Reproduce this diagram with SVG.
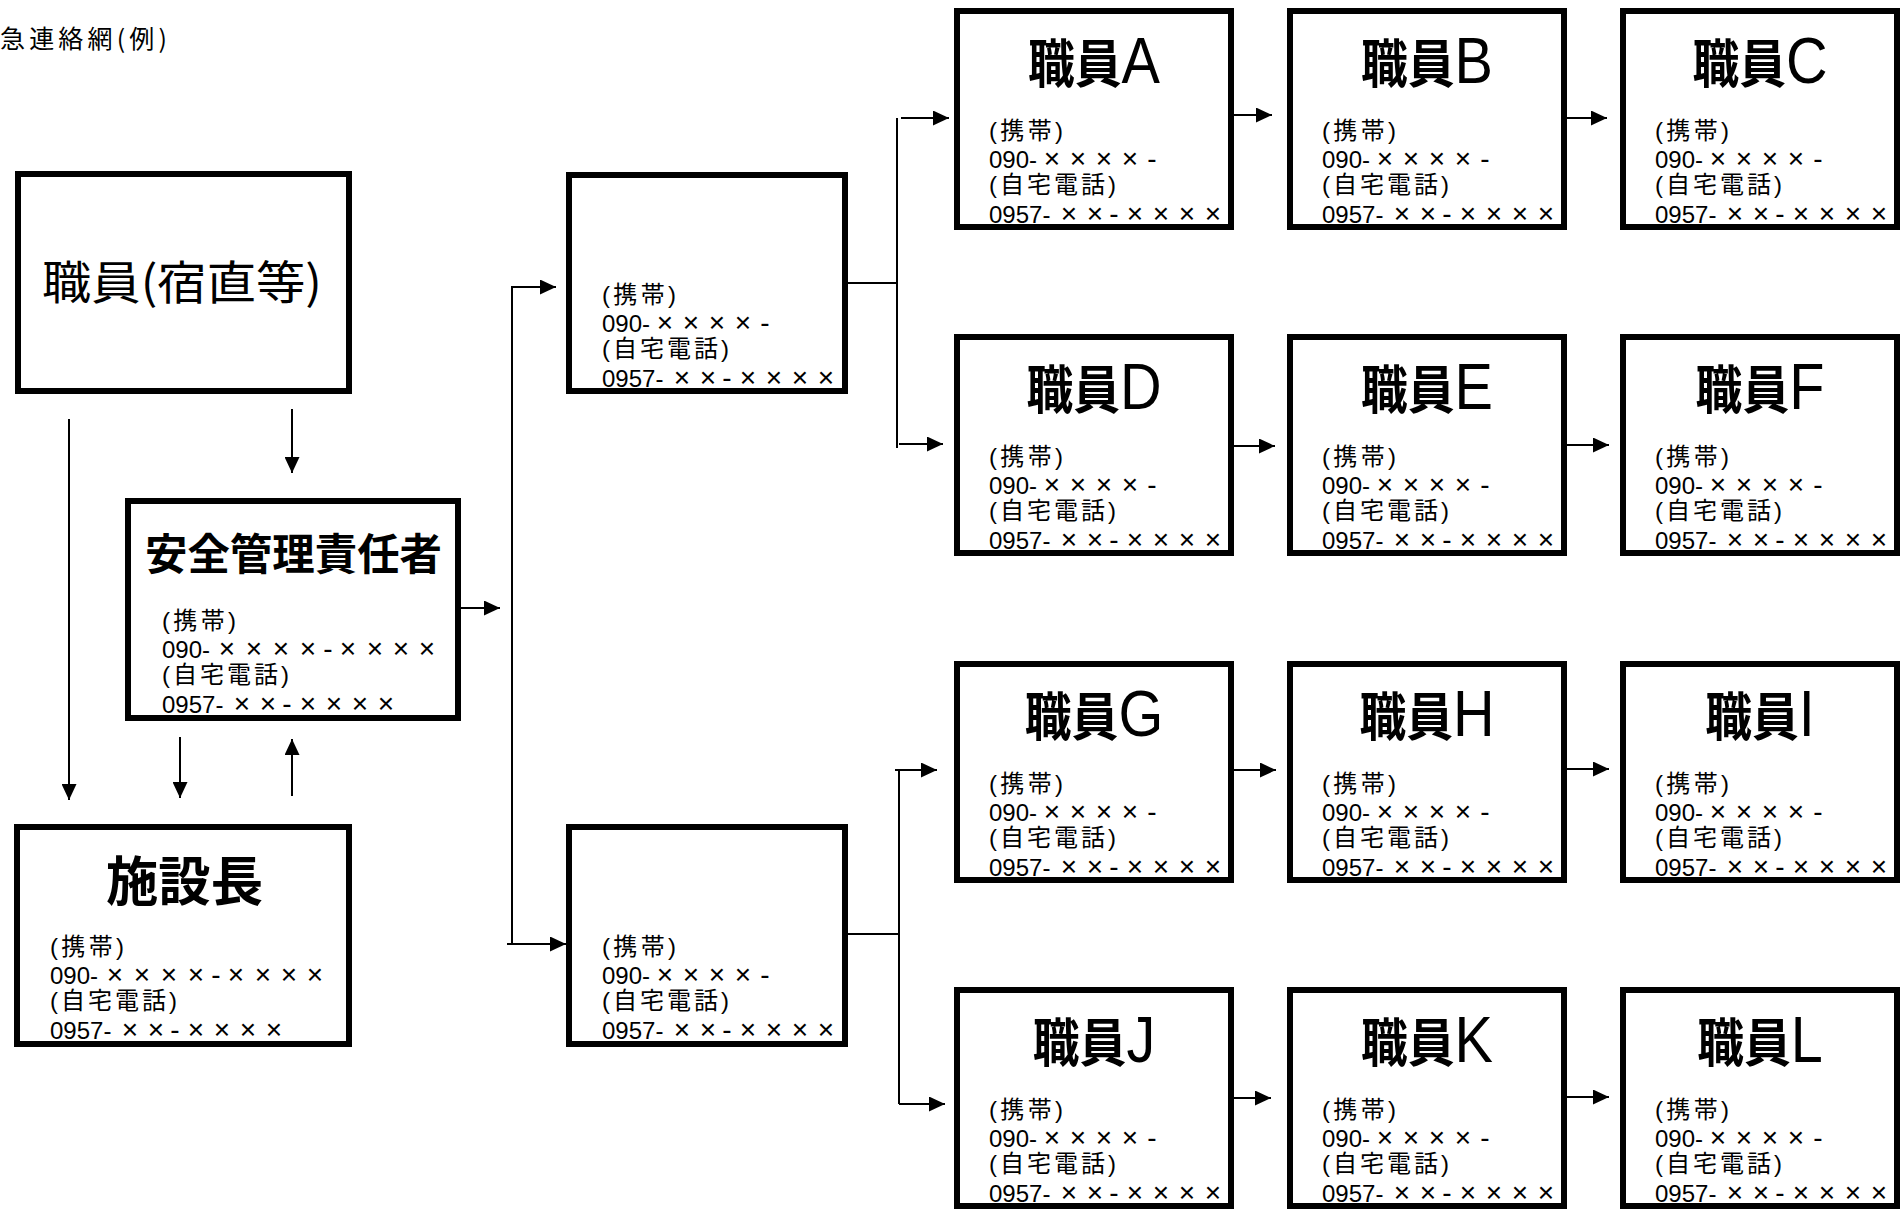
<svg xmlns="http://www.w3.org/2000/svg" width="1901" height="1210" viewBox="0 0 1901 1210">
<defs>
<marker id="ah" markerWidth="16" markerHeight="15" refX="16" refY="7.5" orient="auto" markerUnits="userSpaceOnUse"><path d="M0,0 L16,7.5 L0,15 Z" fill="#000"/></marker>
<style>
.box{fill:#fff;stroke:#000;stroke-width:6}
.s{font-family:"Liberation Sans","Noto Sans CJK JP",sans-serif;font-size:24px;fill:#000}
.x{text-anchor:middle;font-size:28px}
.ttl{font-family:"Noto Sans CJK JP",sans-serif;font-weight:bold;fill:#000}
.reg{font-family:"Noto Sans CJK JP",sans-serif;font-weight:normal;fill:#000}
.lat{font-family:"Liberation Sans",sans-serif;font-weight:normal}
.st{font-size:52px}
.sl{font-size:64px}
.c{fill:none;stroke:#000;stroke-width:2}
.a{marker-end:url(#ah)}
</style>
</defs>
<rect width="1901" height="1210" fill="#fff"/>
<text class="reg" x="0" y="48" font-size="25" textLength="167" lengthAdjust="spacing">急連絡網(例)</text>

<g id="connectors">
<line class="c a" x1="69" y1="419" x2="69" y2="800"/>
<line class="c a" x1="292" y1="409" x2="292" y2="473"/>
<line class="c a" x1="461" y1="608" x2="500" y2="608"/>
<line class="c a" x1="180" y1="737" x2="180" y2="798"/>
<line class="c a" x1="292" y1="796" x2="292" y2="739"/>
<path class="c a" d="M512,944 L512,287 L556,287"/>
<line class="c a" x1="507" y1="944" x2="566" y2="944"/>
<line class="c" x1="848" y1="283" x2="897" y2="283"/>
<line class="c" x1="897" y1="118" x2="897" y2="448"/>
<line class="c a" x1="901" y1="118" x2="949" y2="118"/>
<line class="c a" x1="899" y1="444" x2="943" y2="444"/>
<line class="c" x1="848" y1="934" x2="899" y2="934"/>
<line class="c" x1="899" y1="769" x2="899" y2="1104"/>
<line class="c a" x1="895" y1="770" x2="937" y2="770"/>
<line class="c a" x1="899" y1="1104" x2="945" y2="1104"/>
<line class="c a" x1="1234" y1="115" x2="1272" y2="115"/>
<line class="c a" x1="1567" y1="118" x2="1607" y2="118"/>
<line class="c a" x1="1234" y1="446" x2="1275" y2="446"/>
<line class="c a" x1="1567" y1="445" x2="1609" y2="445"/>
<line class="c a" x1="1234" y1="770" x2="1276" y2="770"/>
<line class="c a" x1="1567" y1="769" x2="1609" y2="769"/>
<line class="c a" x1="1234" y1="1098" x2="1271" y2="1098"/>
<line class="c a" x1="1567" y1="1097" x2="1609" y2="1097"/>
</g>

<g id="node-shukuchoku" transform="translate(15,171)">
<rect class="box" x="3" y="3" width="331" height="217"/>
<text class="reg" x="27" y="128" font-size="46" textLength="280" lengthAdjust="spacingAndGlyphs">職員(宿直等)</text>
</g>

<g id="node-anzen" transform="translate(125,498)">
<rect class="box" x="3" y="3" width="330" height="217"/>
<text class="ttl" x="20" y="72" font-size="43" textLength="297" lengthAdjust="spacingAndGlyphs">安全管理責任者</text>
<text class="s" x="37" y="131" textLength="74" lengthAdjust="spacing">(携帯)</text>
<text class="s" x="37" y="160">090-</text>
<text class="s x" x="102 129 156 183 203 223 250 276 302" y="160">××××-××××</text>
<text class="s" x="37" y="185" textLength="127" lengthAdjust="spacing">(自宅電話)</text>
<text class="s" x="37" y="215">0957-</text>
<text class="s x" x="117 143 162 183 209 235 261" y="215">××-××××</text>
</g>

<g id="node-shisetsucho" transform="translate(14,824)">
<rect class="box" x="3" y="3" width="332" height="217"/>
<text class="ttl" x="92" y="77" font-size="53" textLength="157" lengthAdjust="spacingAndGlyphs">施設長</text>
<text class="s" x="36" y="131" textLength="74" lengthAdjust="spacing">(携帯)</text>
<text class="s" x="36" y="160">090-</text>
<text class="s x" x="101 128 155 182 202 222 249 275 301" y="160">××××-××××</text>
<text class="s" x="36" y="185" textLength="127" lengthAdjust="spacing">(自宅電話)</text>
<text class="s" x="36" y="215">0957-</text>
<text class="s x" x="116 142 161 182 208 234 260" y="215">××-××××</text>
</g>

<g id="node-relay1" transform="translate(566,172)">
<rect class="box" x="3" y="3" width="276" height="216"/>
<text class="s" x="36" y="131" textLength="74" lengthAdjust="spacing">(携帯)</text>
<text class="s" x="36" y="160">090-</text>
<text class="s x" x="99 125 151 177 199" y="160">××××-</text>
<text class="s" x="36" y="185" textLength="127" lengthAdjust="spacing">(自宅電話)</text>
<text class="s" x="36" y="215">0957-</text>
<text class="s x" x="116 142 161 182 208 234 260" y="215">××-××××</text>
</g>

<g id="node-relay2" transform="translate(566,824)">
<rect class="box" x="3" y="3" width="276" height="217"/>
<text class="s" x="36" y="131" textLength="74" lengthAdjust="spacing">(携帯)</text>
<text class="s" x="36" y="160">090-</text>
<text class="s x" x="99 125 151 177 199" y="160">××××-</text>
<text class="s" x="36" y="185" textLength="127" lengthAdjust="spacing">(自宅電話)</text>
<text class="s" x="36" y="215">0957-</text>
<text class="s x" x="116 142 161 182 208 234 260" y="215">××-××××</text>
</g>

<g id="staff-a" transform="translate(954,8)">
<rect class="box" x="3" y="3" width="274" height="216"/>
<text class="ttl" transform="translate(140,75) scale(0.9,1)" text-anchor="middle"><tspan class="st">職員</tspan><tspan class="lat sl">A</tspan></text>
<text class="s" x="35" y="131" textLength="74" lengthAdjust="spacing">(携帯)</text>
<text class="s" x="35" y="160">090-</text>
<text class="s x" x="98 124 150 176 198" y="160">××××-</text>
<text class="s" x="35" y="185" textLength="127" lengthAdjust="spacing">(自宅電話)</text>
<text class="s" x="35" y="215">0957-</text>
<text class="s x" x="115 141 160 181 207 233 259" y="215">××-××××</text>
</g>
<g id="staff-b" transform="translate(1287,8)">
<rect class="box" x="3" y="3" width="274" height="216"/>
<text class="ttl" transform="translate(140,75) scale(0.9,1)" text-anchor="middle"><tspan class="st">職員</tspan><tspan class="lat sl">B</tspan></text>
<text class="s" x="35" y="131" textLength="74" lengthAdjust="spacing">(携帯)</text>
<text class="s" x="35" y="160">090-</text>
<text class="s x" x="98 124 150 176 198" y="160">××××-</text>
<text class="s" x="35" y="185" textLength="127" lengthAdjust="spacing">(自宅電話)</text>
<text class="s" x="35" y="215">0957-</text>
<text class="s x" x="115 141 160 181 207 233 259" y="215">××-××××</text>
</g>
<g id="staff-c" transform="translate(1620,8)">
<rect class="box" x="3" y="3" width="274" height="216"/>
<text class="ttl" transform="translate(140,75) scale(0.9,1)" text-anchor="middle"><tspan class="st">職員</tspan><tspan class="lat sl">C</tspan></text>
<text class="s" x="35" y="131" textLength="74" lengthAdjust="spacing">(携帯)</text>
<text class="s" x="35" y="160">090-</text>
<text class="s x" x="98 124 150 176 198" y="160">××××-</text>
<text class="s" x="35" y="185" textLength="127" lengthAdjust="spacing">(自宅電話)</text>
<text class="s" x="35" y="215">0957-</text>
<text class="s x" x="115 141 160 181 207 233 259" y="215">××-××××</text>
</g>

<g id="staff-d" transform="translate(954,334)">
<rect class="box" x="3" y="3" width="274" height="216"/>
<text class="ttl" transform="translate(140,75) scale(0.9,1)" text-anchor="middle"><tspan class="st">職員</tspan><tspan class="lat sl">D</tspan></text>
<text class="s" x="35" y="131" textLength="74" lengthAdjust="spacing">(携帯)</text>
<text class="s" x="35" y="160">090-</text>
<text class="s x" x="98 124 150 176 198" y="160">××××-</text>
<text class="s" x="35" y="185" textLength="127" lengthAdjust="spacing">(自宅電話)</text>
<text class="s" x="35" y="215">0957-</text>
<text class="s x" x="115 141 160 181 207 233 259" y="215">××-××××</text>
</g>
<g id="staff-e" transform="translate(1287,334)">
<rect class="box" x="3" y="3" width="274" height="216"/>
<text class="ttl" transform="translate(140,75) scale(0.9,1)" text-anchor="middle"><tspan class="st">職員</tspan><tspan class="lat sl">E</tspan></text>
<text class="s" x="35" y="131" textLength="74" lengthAdjust="spacing">(携帯)</text>
<text class="s" x="35" y="160">090-</text>
<text class="s x" x="98 124 150 176 198" y="160">××××-</text>
<text class="s" x="35" y="185" textLength="127" lengthAdjust="spacing">(自宅電話)</text>
<text class="s" x="35" y="215">0957-</text>
<text class="s x" x="115 141 160 181 207 233 259" y="215">××-××××</text>
</g>
<g id="staff-f" transform="translate(1620,334)">
<rect class="box" x="3" y="3" width="274" height="216"/>
<text class="ttl" transform="translate(140,75) scale(0.9,1)" text-anchor="middle"><tspan class="st">職員</tspan><tspan class="lat sl">F</tspan></text>
<text class="s" x="35" y="131" textLength="74" lengthAdjust="spacing">(携帯)</text>
<text class="s" x="35" y="160">090-</text>
<text class="s x" x="98 124 150 176 198" y="160">××××-</text>
<text class="s" x="35" y="185" textLength="127" lengthAdjust="spacing">(自宅電話)</text>
<text class="s" x="35" y="215">0957-</text>
<text class="s x" x="115 141 160 181 207 233 259" y="215">××-××××</text>
</g>

<g id="staff-g" transform="translate(954,661)">
<rect class="box" x="3" y="3" width="274" height="216"/>
<text class="ttl" transform="translate(140,75) scale(0.9,1)" text-anchor="middle"><tspan class="st">職員</tspan><tspan class="lat sl">G</tspan></text>
<text class="s" x="35" y="131" textLength="74" lengthAdjust="spacing">(携帯)</text>
<text class="s" x="35" y="160">090-</text>
<text class="s x" x="98 124 150 176 198" y="160">××××-</text>
<text class="s" x="35" y="185" textLength="127" lengthAdjust="spacing">(自宅電話)</text>
<text class="s" x="35" y="215">0957-</text>
<text class="s x" x="115 141 160 181 207 233 259" y="215">××-××××</text>
</g>
<g id="staff-h" transform="translate(1287,661)">
<rect class="box" x="3" y="3" width="274" height="216"/>
<text class="ttl" transform="translate(140,75) scale(0.9,1)" text-anchor="middle"><tspan class="st">職員</tspan><tspan class="lat sl">H</tspan></text>
<text class="s" x="35" y="131" textLength="74" lengthAdjust="spacing">(携帯)</text>
<text class="s" x="35" y="160">090-</text>
<text class="s x" x="98 124 150 176 198" y="160">××××-</text>
<text class="s" x="35" y="185" textLength="127" lengthAdjust="spacing">(自宅電話)</text>
<text class="s" x="35" y="215">0957-</text>
<text class="s x" x="115 141 160 181 207 233 259" y="215">××-××××</text>
</g>
<g id="staff-i" transform="translate(1620,661)">
<rect class="box" x="3" y="3" width="274" height="216"/>
<text class="ttl" transform="translate(140,75) scale(0.9,1)" text-anchor="middle"><tspan class="st">職員</tspan><tspan class="lat sl">I</tspan></text>
<text class="s" x="35" y="131" textLength="74" lengthAdjust="spacing">(携帯)</text>
<text class="s" x="35" y="160">090-</text>
<text class="s x" x="98 124 150 176 198" y="160">××××-</text>
<text class="s" x="35" y="185" textLength="127" lengthAdjust="spacing">(自宅電話)</text>
<text class="s" x="35" y="215">0957-</text>
<text class="s x" x="115 141 160 181 207 233 259" y="215">××-××××</text>
</g>

<g id="staff-j" transform="translate(954,987)">
<rect class="box" x="3" y="3" width="274" height="216"/>
<text class="ttl" transform="translate(140,75) scale(0.9,1)" text-anchor="middle"><tspan class="st">職員</tspan><tspan class="lat sl">J</tspan></text>
<text class="s" x="35" y="131" textLength="74" lengthAdjust="spacing">(携帯)</text>
<text class="s" x="35" y="160">090-</text>
<text class="s x" x="98 124 150 176 198" y="160">××××-</text>
<text class="s" x="35" y="185" textLength="127" lengthAdjust="spacing">(自宅電話)</text>
<text class="s" x="35" y="215">0957-</text>
<text class="s x" x="115 141 160 181 207 233 259" y="215">××-××××</text>
</g>
<g id="staff-k" transform="translate(1287,987)">
<rect class="box" x="3" y="3" width="274" height="216"/>
<text class="ttl" transform="translate(140,75) scale(0.9,1)" text-anchor="middle"><tspan class="st">職員</tspan><tspan class="lat sl">K</tspan></text>
<text class="s" x="35" y="131" textLength="74" lengthAdjust="spacing">(携帯)</text>
<text class="s" x="35" y="160">090-</text>
<text class="s x" x="98 124 150 176 198" y="160">××××-</text>
<text class="s" x="35" y="185" textLength="127" lengthAdjust="spacing">(自宅電話)</text>
<text class="s" x="35" y="215">0957-</text>
<text class="s x" x="115 141 160 181 207 233 259" y="215">××-××××</text>
</g>
<g id="staff-l" transform="translate(1620,987)">
<rect class="box" x="3" y="3" width="274" height="216"/>
<text class="ttl" transform="translate(140,75) scale(0.9,1)" text-anchor="middle"><tspan class="st">職員</tspan><tspan class="lat sl">L</tspan></text>
<text class="s" x="35" y="131" textLength="74" lengthAdjust="spacing">(携帯)</text>
<text class="s" x="35" y="160">090-</text>
<text class="s x" x="98 124 150 176 198" y="160">××××-</text>
<text class="s" x="35" y="185" textLength="127" lengthAdjust="spacing">(自宅電話)</text>
<text class="s" x="35" y="215">0957-</text>
<text class="s x" x="115 141 160 181 207 233 259" y="215">××-××××</text>
</g>
</svg>
